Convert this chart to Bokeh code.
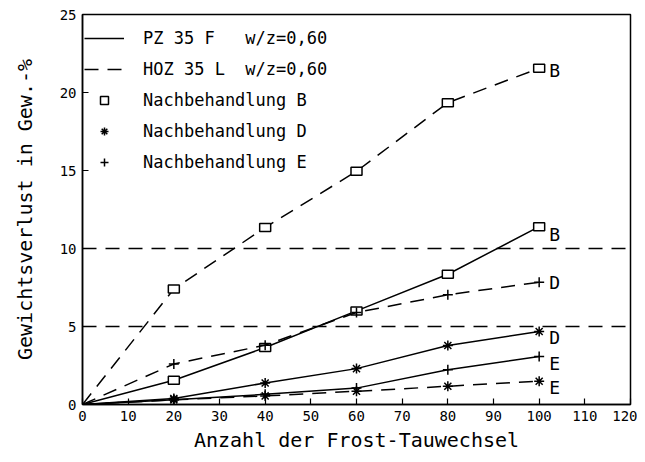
from bokeh.plotting import figure
from bokeh.models import Range1d, Span, Legend, LegendItem, FixedTicker
from bokeh.core.properties import value
from bokeh.embed import file_html
from bokeh.resources import INLINE

# ---- data ----
cycles = [0, 20, 40, 60, 80, 100]
pz_B = [0, 1.55, 3.65, 6.0, 8.35, 11.4]
pz_D = [0, 0.38, 1.38, 2.3, 3.78, 4.68]
pz_E = [0, 0.3, 0.65, 1.05, 2.23, 3.08]
hoz_B = [0, 7.4, 11.35, 14.95, 19.35, 21.55]
hoz_D = [0, 2.6, 3.8, 5.9, 7.03, 7.84]
hoz_E = [0, 0.3, 0.55, 0.85, 1.17, 1.49]
x_ticks = [0, 10, 20, 30, 40, 50, 60, 70, 80, 90, 100, 110, 120]
y_ticks = [0, 5, 10, 15, 20, 25]
ref_levels = [5, 10]
legend_labels = ["PZ 35 F   w/z=0,60", "HOZ 35 L  w/z=0,60",
                 "Nachbehandlung B", "Nachbehandlung D", "Nachbehandlung E"]
x_title = "Anzahl der Frost-Tauwechsel"
y_title = "Gewichtsverlust in Gew.-%"

FONT = "DejaVu Sans Mono"
DASH = "14 9"

p = figure(width=637, height=454, output_backend="svg", toolbar_location=None,
           x_range=Range1d(0, 120), y_range=Range1d(0, 25),
           min_border_left=82, min_border_right=7, min_border_top=14, min_border_bottom=48)
p.background_fill_color = "white"
p.border_fill_color = "white"
p.outline_line_color = "black"
p.outline_line_width = 1.5
p.grid.visible = False

for ax in (p.xaxis[0], p.yaxis[0]):
    ax.axis_line_color = "black"
    ax.axis_line_width = 1.5
    ax.major_tick_in = 6
    ax.major_tick_out = 0
    ax.major_tick_line_color = "black"
    ax.major_tick_line_width = 1.2
    ax.minor_tick_line_color = None
    ax.major_label_text_font = FONT
    ax.major_label_text_font_size = "14px"
    ax.major_label_text_color = "black"
    ax.major_label_standoff = 6
    ax.axis_label_text_font = FONT
    ax.axis_label_text_font_size = "20px"
    ax.axis_label_text_font_style = "normal"
    ax.axis_label_text_color = "black"

p.xaxis.ticker = FixedTicker(ticks=x_ticks)
p.yaxis.ticker = FixedTicker(ticks=y_ticks)
p.xaxis.axis_label = x_title
p.xaxis.axis_label_standoff = 4
p.yaxis.axis_label = y_title
p.yaxis.axis_label_standoff = 20

for lv in ref_levels:
    p.add_layout(Span(location=lv, dimension="width", line_color="black",
                      line_width=1.5, line_dash=DASH))

series = [
    (hoz_B, "dashed", "square", "B"),
    (pz_B, "solid", "square", "B"),
    (hoz_D, "dashed", "cross", "D"),
    (pz_D, "solid", "asterisk", "D"),
    (pz_E, "solid", "cross", "E"),
    (hoz_E, "dashed", "asterisk", "E"),
]
label_dy = [2, 8, 0, 6, 7, 6]

for (vals, dash, marker, name), dy in zip(series, label_dy):
    p.line(cycles, vals, line_color="black", line_width=1.5,
           line_dash=DASH if dash == "dashed" else "solid")
    if marker == "square":
        p.rect(cycles[1:], vals[1:], width=11, height=8, width_units="screen",
               height_units="screen", line_color="black", line_width=1.5,
               fill_color="white")
    else:
        p.scatter(cycles[1:], vals[1:], marker=marker, size=10, line_color="black",
                  line_width=1.5)
    p.text(x=[cycles[-1]], y=[vals[-1]], text=[name], x_offset=10, y_offset=dy,
           text_font=value(FONT), text_font_size="18px", text_color="black",
           text_baseline="middle", text_align="left")

# legend samples (placed outside the visible ranges)
r_solid = p.line([-10, -9], [-10, -9], line_color="black", line_width=1.5)
r_dash = p.line([-10, -9], [-10, -9], line_color="black", line_width=1.5, line_dash=DASH)
r_sq = p.scatter([-10], [-10], marker="square", size=8, line_color="black",
                 line_width=1.5, fill_color="white")
r_ast = p.scatter([-10], [-10], marker="asterisk", size=10, line_color="black", line_width=1.5)
r_cr = p.scatter([-10], [-10], marker="cross", size=10, line_color="black", line_width=1.5)

legend = Legend(items=[LegendItem(label=legend_labels[0], renderers=[r_solid]),
                       LegendItem(label=legend_labels[1], renderers=[r_dash]),
                       LegendItem(label=legend_labels[2], renderers=[r_sq]),
                       LegendItem(label=legend_labels[3], renderers=[r_ast]),
                       LegendItem(label=legend_labels[4], renderers=[r_cr])],
                location=(2, 232), margin=0, padding=5, spacing=11,
                glyph_width=40, glyph_height=20, label_height=20, label_standoff=19,
                label_text_font=FONT, label_text_font_size="17px",
                label_text_color="black", border_line_color=None,
                background_fill_alpha=0)
p.add_layout(legend)

open("out.html", "w").write(file_html(p, INLINE))
